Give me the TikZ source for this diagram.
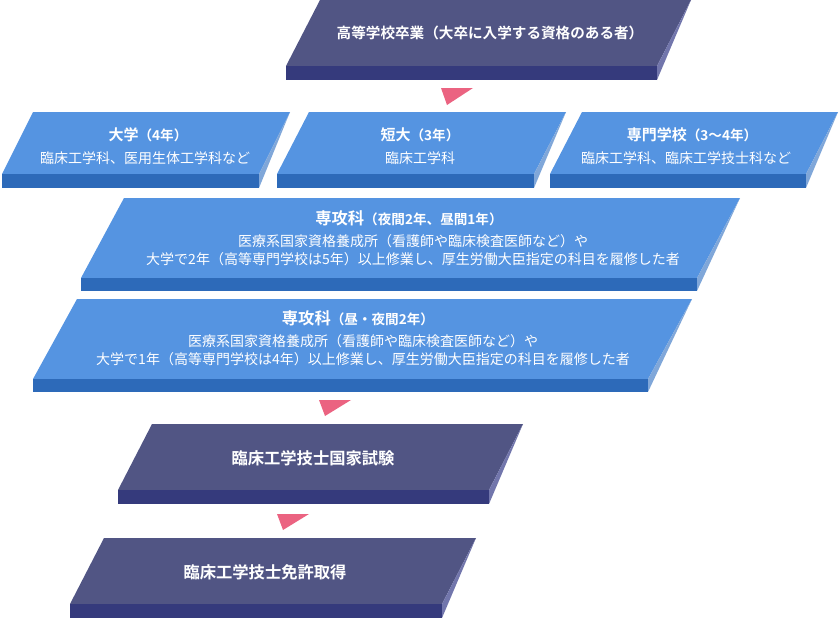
\documentclass[tikz,border=0pt]{standalone}
\usepackage{fontspec}
\newfontfamily\jp{Noto Sans CJK JP}[BoldFont={Noto Sans CJK JP Bold}]
\definecolor{navytop}{HTML}{515584}
\definecolor{navyband}{HTML}{353A7C}
\definecolor{navyside}{HTML}{7276AC}
\definecolor{bluetop}{HTML}{5594E1}
\definecolor{blueband}{HTML}{2D6AB9}
\definecolor{blueside}{HTML}{80A7D9}
\definecolor{arrowpink}{HTML}{EB6381}
% 板: #1 色, #2 左上x, #3 右上x, #4 傾き, #5 上端, #6 上面下端, #7 下端
\newcommand{\slab}[7]{%
  \fill[#1top] (#2,#5) -- (#3,#5) -- ({#3-#4},#6) -- ({#2-#4},#6) -- cycle;
  \fill[#1band] ({#2-#4},#6) rectangle ({#3-#4},#7);
  \fill[#1side] (#3,#5) -- ({#3-#4},#6) -- ({#3-#4},#7) -- cycle;
}
\newcommand{\yearnote}[1]{{\fontsize{13.6}{16}\selectfont #1}}
\begin{document}
\begin{tikzpicture}[x=1pt, y=-1pt,
    every node/.style={text=white, align=center, inner sep=0pt},
    title/.style={font=\jp\bfseries\fontsize{15}{18}\selectfont},
    bigtitle/.style={font=\jp\bfseries\fontsize{16.3}{18}\selectfont},
    body/.style={font=\jp\fontsize{14}{18}\selectfont}]
  \useasboundingbox (0,0) rectangle (840,618);

  % 板
  \slab{navy}{320}{691}{34}{0}{66}{80}
  \slab{blue}{33}{290}{31}{112}{174}{188}
  \slab{blue}{309}{566}{32}{112}{174}{188}
  \slab{blue}{582}{838}{32}{112}{174}{188}
  \slab{blue}{124}{740}{43}{198}{278}{291}
  \slab{blue}{77}{692}{44}{299}{379}{392}
  \slab{navy}{152}{523}{34}{424}{490}{504}
  \slab{navy}{104}{476}{34}{538}{604}{618}

  % 矢印
  \fill[arrowpink] (441,88) -- (473,88) -- (447,105) -- cycle;
  \fill[arrowpink] (319,400) -- (351,400) -- (325,416) -- cycle;
  \fill[arrowpink] (277,514) -- (309,514) -- (283,530) -- cycle;

  % 文字
  \node[title] (hs) at (490,33) {\fontsize{14.6}{18}\selectfont 高等学校卒業（大卒に入学する資格のある者）};

  \node[title] (univ-t) at (148,135) {大学\yearnote{（4年）}};
  \node[body] (univ-b) at (145,158) {臨床工学科、医用生体工学科など};
  \node[title] (jc-t) at (420,135) {短大\yearnote{（3年）}};
  \node[body] (jc-b) at (420,158) {臨床工学科};
  \node[title] (voc-t) at (692,135) {専門学校\yearnote{（3～4年）}};
  \node[body] (voc-b) at (686,158) {臨床工学科、臨床工学技士科など};

  \node[bigtitle] (adv1-t) at (409,218) {専攻科\yearnote{（夜間2年、昼間1年）}};
  \node[body] (adv1-b) at (413,250) {医療系国家資格養成所（看護師や臨床検査医師など）や\\
    大学で2年（高等専門学校は5年）以上修業し、厚生労働大臣指定の科目を履修した者};
  \node[bigtitle] (adv2-t) at (358,318) {専攻科\yearnote{（昼・夜間2年）}};
  \node[body] (adv2-b) at (363,350) {医療系国家資格養成所（看護師や臨床検査医師など）や\\
    大学で1年（高等専門学校は4年）以上修業し、厚生労働大臣指定の科目を履修した者};

  \node[bigtitle] (exam) at (313,458) {臨床工学技士国家試験};
  \node[bigtitle] (lic) at (265,572) {臨床工学技士免許取得};
\end{tikzpicture}
\end{document}
